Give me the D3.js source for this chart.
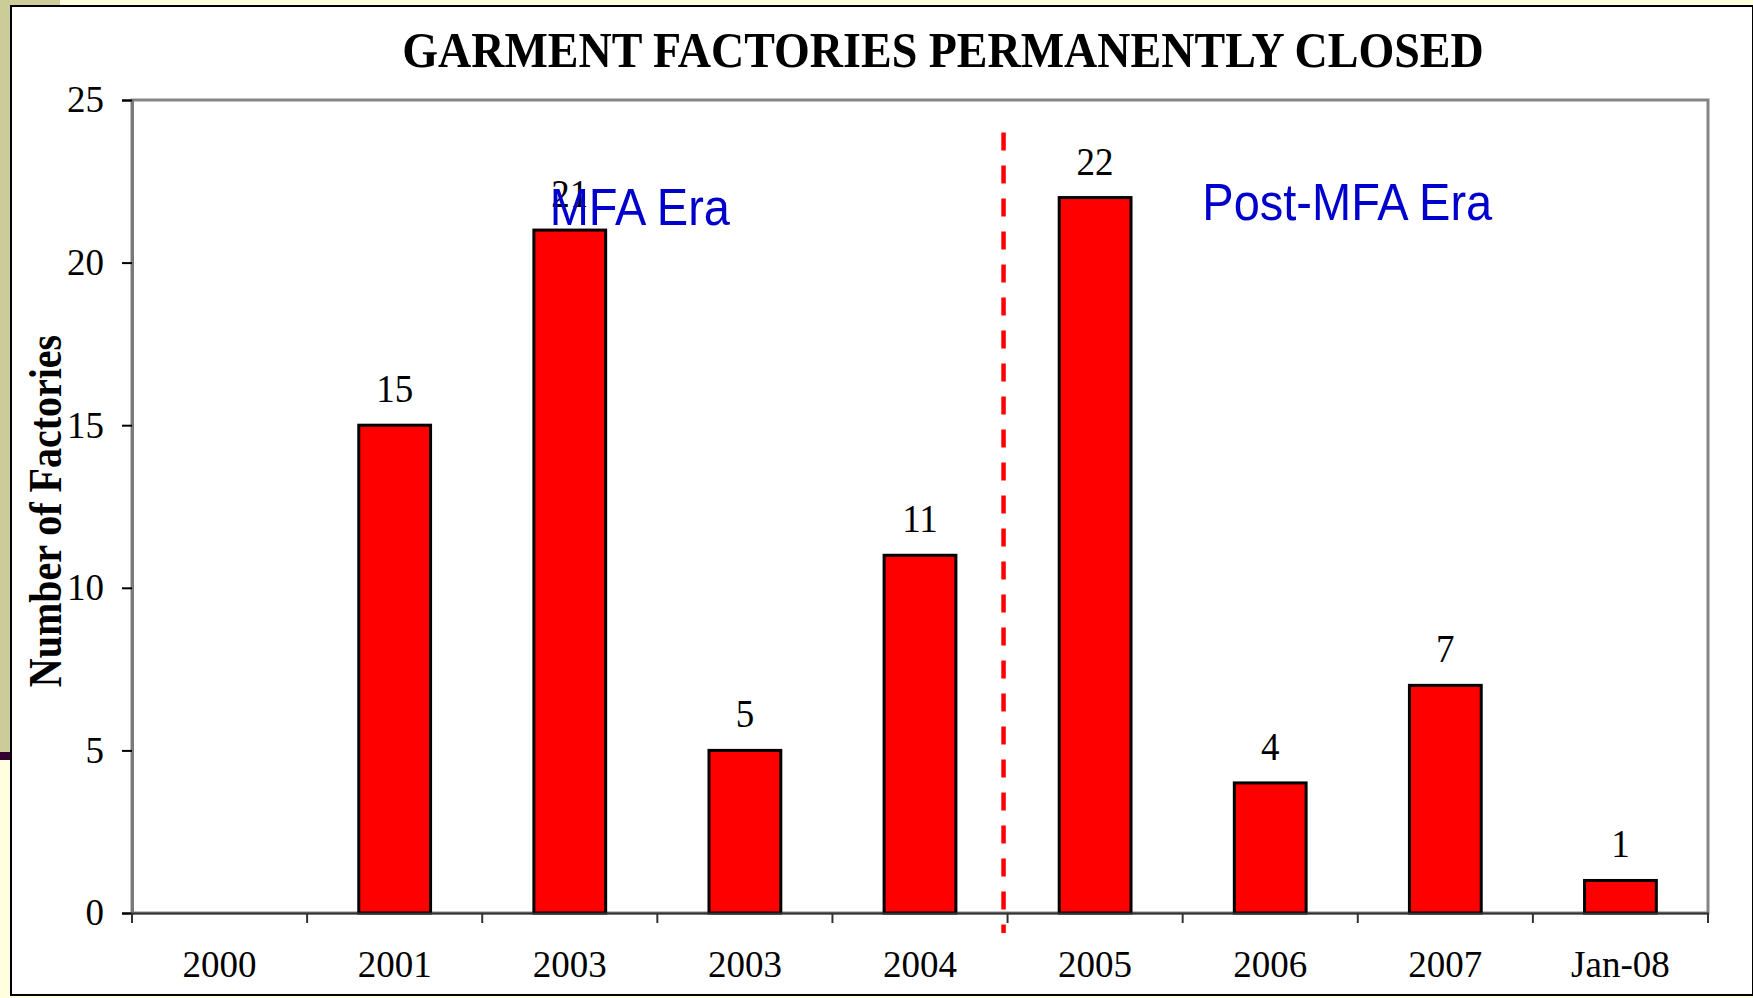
<!DOCTYPE html>
<html lang="en">
  <head>
    <meta charset="utf-8">
    <title>Garment Factories Permanently Closed</title>
    <style>
      html, body { margin: 0; padding: 0; background: #FFFFE0; }
      svg { display: block; }
    </style>
  </head>
  <body>
    <div id="chart"></div>
  </body>
  <script src="https://d3js.org/d3.v7.min.js"></script>
  <script type="text/javascript">
    // data
    var categories = ["2000", "2001", "2003", "2003 ", "2004", "2005", "2006", "2007", "Jan-08"];
    var factoryCounts = [0, 15, 21, 5, 11, 22, 4, 7, 1];
    var yTicks = [0, 5, 10, 15, 20, 25];
    var eras = [
      {name: "MFA Era", at: 2.9, top: 21.15},
      {name: "Post-MFA Era", at: 6.94, top: 21.3}
    ];
    var dividerAfter = "2004";

    var width = 1753;
    var height = 998;
    var stretch = 1.09; // the slide chart is a bit taller than wide

    var svg = d3.select("#chart")
      .append("svg")
      .attr("width", width)
      .attr("height", height);

    // slide background bits
    svg.append("rect").attr("x", 0).attr("y", 0).attr("width", width).attr("height", height).attr("fill", "#FFFFE0");
    svg.append("rect").attr("x", 0).attr("y", 0).attr("width", 60).attr("height", 6).attr("fill", "#CCCC99");
    svg.append("rect").attr("x", 0).attr("y", 0).attr("width", 11).attr("height", 752).attr("fill", "#CCCC99");
    svg.append("rect").attr("x", 0).attr("y", 752).attr("width", 11).attr("height", 8).attr("fill", "#330033");

    // white chart box
    svg.append("rect")
      .attr("x", 11).attr("y", 6)
      .attr("width", width - 11).attr("height", 989)
      .attr("fill", "white")
      .attr("stroke", "black")
      .attr("stroke-width", 2);

    var plotL = 132, plotR = 1708, plotT = 100, plotB = 913;

    var x = d3.scaleBand().domain(categories).range([plotL, plotR]).padding(0);
    var xBar = d3.scaleBand().domain(categories).range([plotL, plotR])
      .paddingInner(0.59).paddingOuter(0.295);
    var y = d3.scaleLinear().domain([0, 25]).range([plotB, plotT]);

    function stretchText(sel) {
      sel.each(function() {
        var t = d3.select(this);
        var tx = +t.attr("x") || 0, ty = +t.attr("y") || 0;
        t.attr("x", 0).attr("y", 0)
          .attr("transform", "translate(" + tx + "," + ty + ") scale(1," + stretch + ")");
      });
    }

    // plot frame
    svg.append("rect")
      .attr("x", plotL).attr("y", plotT)
      .attr("width", plotR - plotL).attr("height", plotB - plotT)
      .attr("fill", "white")
      .attr("stroke", "#858585")
      .attr("stroke-width", 3);

    // title
    svg.append("text")
      .attr("x", 943).attr("y", 67)
      .attr("text-anchor", "middle")
      .attr("font-family", "'Liberation Serif', 'Times New Roman', serif")
      .attr("font-weight", "bold")
      .attr("font-size", 46)
      .text("GARMENT FACTORIES PERMANENTLY CLOSED")
      .call(stretchText);

    // y axis title
    svg.append("text")
      .attr("transform", "translate(61,511) scale(1.14,1) rotate(-90)")
      .attr("text-anchor", "middle")
      .attr("font-family", "'Liberation Serif', 'Times New Roman', serif")
      .attr("font-weight", "bold")
      .attr("font-size", 40)
      .text("Number of Factories");

    // bars
    var shown = categories.filter(function(c, i) { return factoryCounts[i] > 0; });
    function val(c) { return factoryCounts[categories.indexOf(c)]; }

    svg.append("g").selectAll("rect")
      .data(shown)
      .enter()
      .append("rect")
      .attr("x", function(c) { return xBar(c); })
      .attr("width", xBar.bandwidth())
      .attr("y", function(c) { return y(val(c)); })
      .attr("height", function(c) { return plotB - y(val(c)); })
      .attr("fill", "#FF0000")
      .attr("stroke", "black")
      .attr("stroke-width", 3);

    // value labels
    svg.append("g").selectAll("text")
      .data(shown)
      .enter()
      .append("text")
      .attr("x", function(c) { return x(c) + x.bandwidth() / 2; })
      .attr("y", function(c) { return y(val(c)) - 23; })
      .attr("text-anchor", "middle")
      .attr("font-family", "'Liberation Serif', 'Times New Roman', serif")
      .attr("font-size", 37)
      .text(function(c) { return val(c); })
      .call(stretchText);

    // y axis
    var yAxis = svg.append("g")
      .attr("transform", "translate(" + plotL + ",0)")
      .call(d3.axisLeft(y).tickValues(yTicks).tickSize(10).tickPadding(18));
    yAxis.select(".domain").attr("stroke", "#7a7a7a").attr("stroke-width", 3);
    yAxis.selectAll(".tick line").attr("stroke", "black").attr("stroke-width", 2);
    yAxis.selectAll(".tick text")
      .attr("font-family", "'Liberation Serif', 'Times New Roman', serif")
      .attr("font-size", 37)
      .attr("fill", "black");

    // x axis: labels at band centres, ticks at band edges
    var xAxis = svg.append("g")
      .attr("transform", "translate(0," + plotB + ")")
      .call(d3.axisBottom(x).tickSize(0).tickPadding(38));
    xAxis.select(".domain").attr("stroke", "#333").attr("stroke-width", 2);
    xAxis.selectAll(".tick text")
      .attr("font-family", "'Liberation Serif', 'Times New Roman', serif")
      .attr("font-size", 37)
      .attr("fill", "black");

    var edges = categories.map(function(c) { return x(c); }).concat([plotR]);
    xAxis.selectAll("line.edge")
      .data(edges)
      .enter()
      .append("line")
      .attr("class", "edge")
      .attr("x1", function(d) { return d; })
      .attr("x2", function(d) { return d; })
      .attr("y1", 0)
      .attr("y2", 10)
      .attr("stroke", "#333")
      .attr("stroke-width", 2);

    // dashed divider between MFA and post-MFA
    var dividerX = x(dividerAfter) + x.bandwidth() - 4;
    svg.append("line")
      .attr("x1", dividerX).attr("x2", dividerX)
      .attr("y1", y(24)).attr("y2", plotB + 20)
      .attr("stroke", "#FF0000")
      .attr("stroke-width", 4.5)
      .attr("stroke-dasharray", "18,15");

    // era labels
    svg.append("g").selectAll("text")
      .data(eras)
      .enter()
      .append("text")
      .attr("x", function(d) { return plotL + d.at * x.step(); })
      .attr("y", function(d) { return y(d.top); })
      .attr("text-anchor", "middle")
      .attr("font-family", "'Liberation Sans', Arial, sans-serif")
      .attr("font-size", 47)
      .attr("fill", "#0000CC")
      .text(function(d) { return d.name; })
      .call(stretchText);
  </script>
</html>
